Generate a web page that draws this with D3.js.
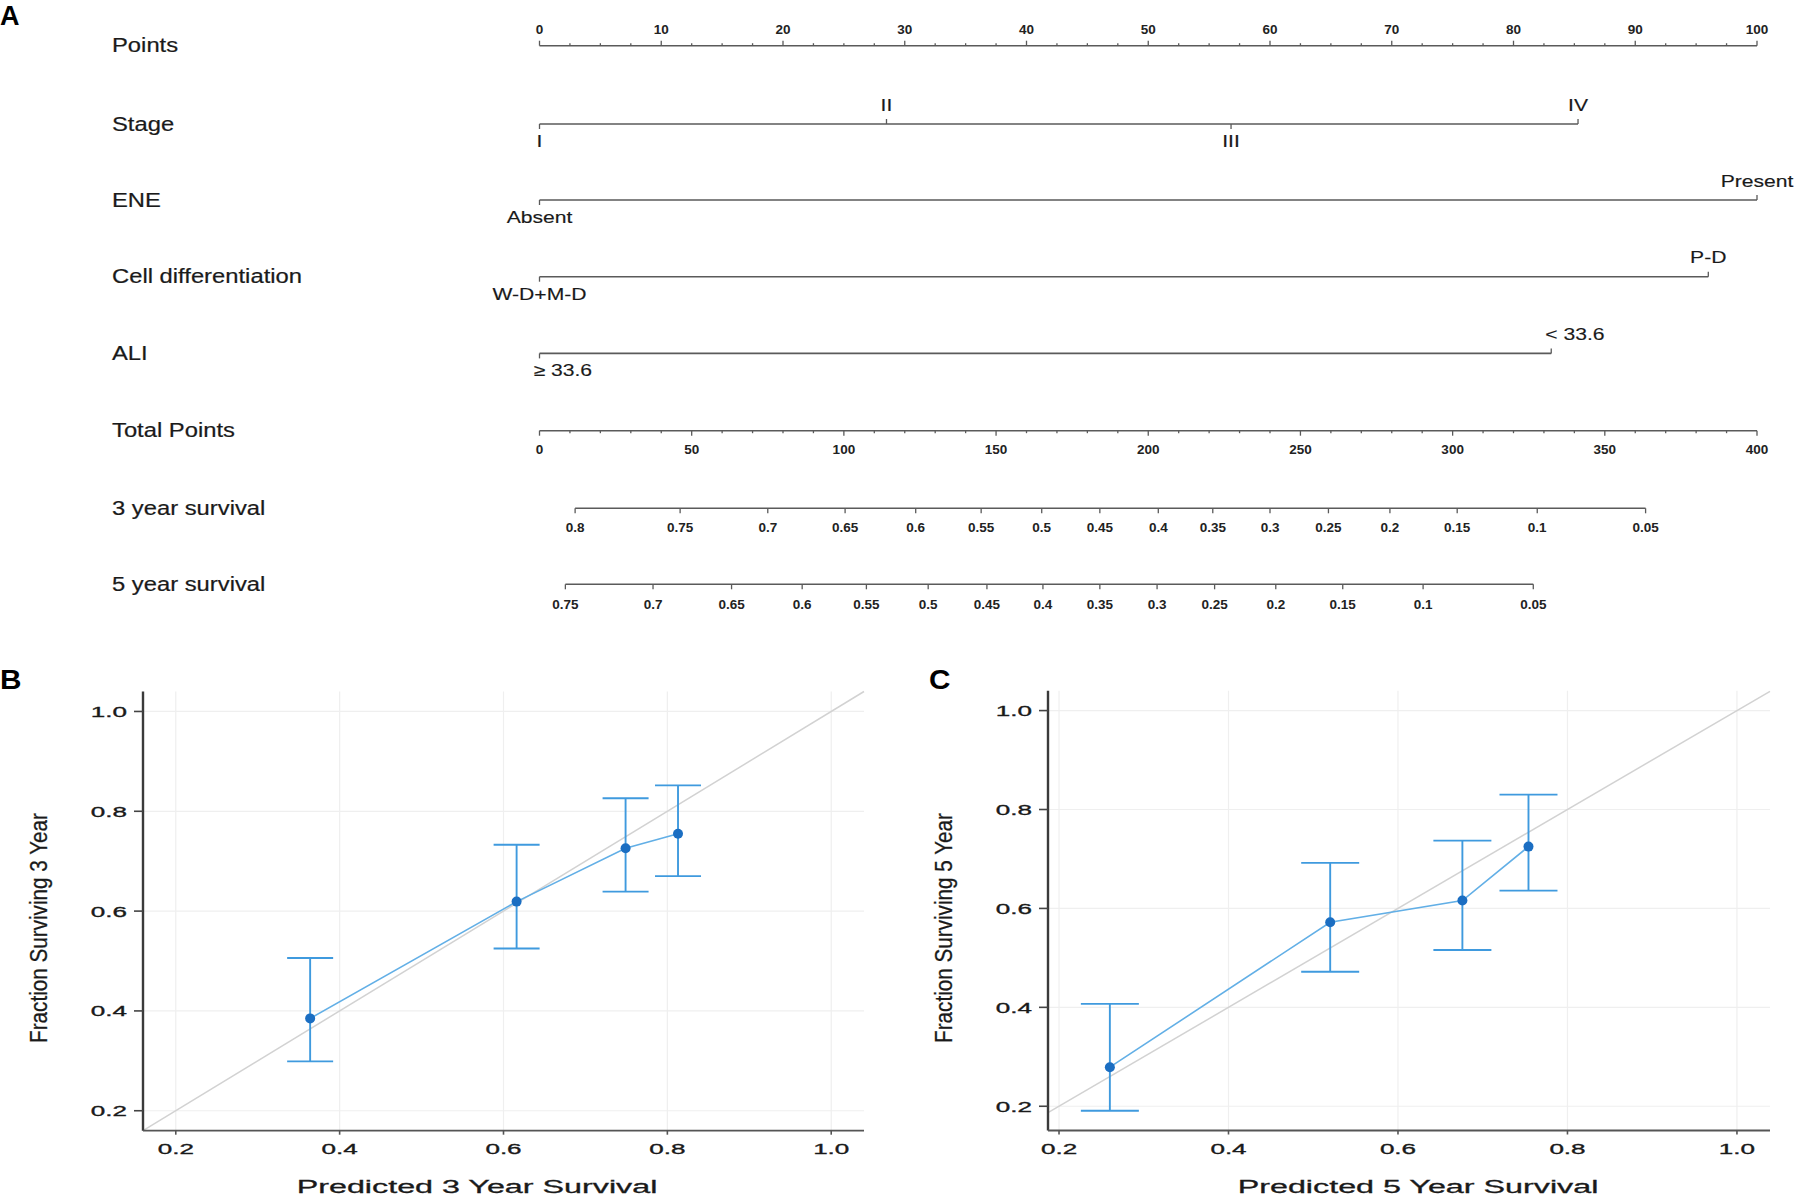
<!DOCTYPE html>
<html><head><meta charset="utf-8">
<script src="https://cdn.jsdelivr.net/npm/d3@7"></script>
<style>
html,body{margin:0;padding:0;background:#fff;}
svg{display:block;font-family:"Liberation Sans",Arial,Helvetica,sans-serif;}
</style></head><body>
<svg id="c" width="1799" height="1197"></svg>
<script>
// ---------------- DATA ----------------
const rowLabels = ["Points","Stage","ENE","Cell differentiation","ALI","Total Points","3 year survival","5 year survival"];
const pointsTicks = [0,10,20,30,40,50,60,70,80,90,100];
const stageLevels = ["I","II","III","IV"];
const stagePoints = [0,28.5,56.8,85.3];
const eneLevels = ["Absent","Present"];
const enePoints = [0,100];
const cellLevels = ["W-D+M-D","P-D"];
const cellPoints = [0,96.0];
const aliLevels = ["\u2265 33.6","< 33.6"];
const aliPoints = [0,83.1];
const totalTicks = [0,50,100,150,200,250,300,350,400];
const surv3Labels = ["0.8","0.75","0.7","0.65","0.6","0.55","0.5","0.45","0.4","0.35","0.3","0.25","0.2","0.15","0.1","0.05"];
const surv3Total  = [11.7,46.2,75.0,100.4,123.6,145.1,165.0,184.1,203.3,221.2,240.0,259.2,279.4,301.5,327.8,363.4];
const surv5Labels = ["0.75","0.7","0.65","0.6","0.55","0.5","0.45","0.4","0.35","0.3","0.25","0.2","0.15","0.1","0.05"];
const surv5Total  = [8.5,37.3,63.1,86.3,107.4,127.7,147.0,165.4,184.1,202.9,221.8,241.9,263.9,290.3,326.5];

const calTicks = [0.2,0.4,0.6,0.8,1.0];
const cal3Pred = [0.364,0.616,0.749,0.813];
const cal3Obs  = [0.385,0.619,0.726,0.755];
const cal3Lo   = [0.299,0.525,0.639,0.670];
const cal3Hi   = [0.506,0.733,0.826,0.852];
const cal5Pred = [0.260,0.520,0.676,0.754];
const cal5Obs  = [0.279,0.572,0.616,0.725];
const cal5Lo   = [0.191,0.472,0.516,0.636];
const cal5Hi   = [0.407,0.692,0.737,0.830];

// ---------------- DRAW ----------------
const svg = d3.select("#c");
const AX = "#5a5a5a";

function txt(g, x, y, s, o) {
  o = o || {};
  const t = g.append("text")
    .attr("transform", `translate(${x},${y}) scale(${o.sx||1},${o.sy||1})`)
    .attr("text-anchor", o.anchor || "start")
    .style("font-size", (o.size||16) + "px")
    .style("font-weight", o.weight || "normal")
    .attr("fill", o.fill || "#1a1a1a")
    .text(s);
  if (o.stroke) t.attr("stroke", o.fill || "#1a1a1a").attr("stroke-width", o.stroke);
  return t;
}
function seg(g, x1, y1, x2, y2, col, w) {
  return g.append("line").attr("x1",x1).attr("y1",y1).attr("x2",x2).attr("y2",y2)
    .attr("stroke", col).attr("stroke-width", w);
}

// panel labels
txt(svg, 0, 25, "A", {size:27, weight:"bold", fill:"#000"});
txt(svg, 0, 689, "B", {size:27, weight:"bold", fill:"#000", sx:1.1});
txt(svg, 929, 689, "C", {size:27, weight:"bold", fill:"#000", sx:1.1});

// ---- Nomogram ----
const nom = svg.append("g");
const rowY = [45.7,124,200,276.7,353.4,430.7,508.3,584.3];
const ps = d3.scaleLinear().domain([0,100]).range([539.5,1757]);
const ts = d3.scaleLinear().domain([0,400]).range([539.5,1757]);

rowLabels.forEach((l,i) => txt(nom, 112, rowY[i]+6.5, l, {size:19.5, sx:1.22, stroke:0.2}));

const tickFont = {size:12.5, anchor:"middle", sx:1.08, fill:"#222", weight:"bold"};

// Points axis (ticks up, labels above)
{
  const y = rowY[0];
  seg(nom, ps(0), y, ps(100), y, AX, 1.6);
  d3.range(0, 100.01, 2.5).forEach(v => {
    const major = Math.abs(v/10 - Math.round(v/10)) < 1e-6;
    seg(nom, ps(v), y, ps(v), y - (major?5:2.5), AX, 1.3);
  });
  pointsTicks.forEach(v => txt(nom, ps(v), y - 11.4, String(v), tickFont));
}

// Factor axes
function factorAxis(row, levels, pts, anchorStart) {
  const y = rowY[row];
  seg(nom, ps(d3.min(pts)), y, ps(d3.max(pts)), y, AX, 1.6);
  levels.forEach((lab, i) => {
    const x = ps(pts[i]);
    const below = i % 2 === 0;
    seg(nom, x, y, x, below ? y+5 : y-5, AX, 1.3);
    const ty = below ? y + 23 : y - 13.5;
    if (anchorStart) txt(nom, x - 6, ty, lab, {size:16.5, sx:1.28, stroke:0.15});
    else txt(nom, x, ty, lab, {size:16.5, sx:1.28, anchor:"middle", stroke:0.15});
  });
}
factorAxis(1, stageLevels, stagePoints, false);
factorAxis(2, eneLevels, enePoints, false);
factorAxis(3, cellLevels, cellPoints, false);
factorAxis(4, aliLevels, aliPoints, true);

// Total points axis (ticks down, labels below)
{
  const y = rowY[5];
  seg(nom, ts(0), y, ts(400), y, AX, 1.6);
  d3.range(0, 400.01, 10).forEach(v => {
    const major = v % 50 === 0;
    seg(nom, ts(v), y, ts(v), y + (major?5:2.5), AX, 1.3);
  });
  totalTicks.forEach(v => txt(nom, ts(v), y + 22.8, String(v), tickFont));
}

// survival axes
function survAxis(row, labels, tot, dy) {
  const y = rowY[row];
  seg(nom, ts(d3.min(tot)), y, ts(d3.max(tot)), y, AX, 1.6);
  labels.forEach((lab, i) => {
    const x = ts(tot[i]);
    seg(nom, x, y, x, y + 5, AX, 1.3);
    txt(nom, x, y + dy, lab, tickFont);
  });
}
survAxis(6, surv3Labels, surv3Total, 23.5);
survAxis(7, surv5Labels, surv5Total, 24.5);

// ---- Calibration panels ----
function calPanel(cfg) {
  const g = svg.append("g");
  const x = d3.scaleLinear().domain(cfg.xd).range(cfg.xr);
  const y = d3.scaleLinear().domain(cfg.yd).range(cfg.yr);
  const [x0, x1] = cfg.xr, [yb, yt] = cfg.yr;
  // grid
  calTicks.forEach(t => {
    seg(g, x(t), yb, x(t), yt, "#efefef", 1.2);
    seg(g, x0, y(t), x1, y(t), "#efefef", 1.2);
  });
  // diagonal
  const v0 = Math.max(cfg.xd[0], cfg.yd[0]), v1 = Math.min(cfg.xd[1], cfg.yd[1]);
  seg(g, x(v0), y(v0), x(v1), y(v1), "#d2d2d2", 1.5);
  // axes
  seg(g, x0, yb, x0, yt, "#3a3a3a", 2.4);
  seg(g, x0, yb, x1, yb, "#555", 1.8);
  const fmt = d3.format(".1f");
  calTicks.forEach(t => {
    seg(g, x(t), yb, x(t), yb + 4, "#555", 1.6);
    txt(g, x(t), 1154, fmt(t), {size:15.5, sx:1.68, anchor:"middle", fill:"#1a1a1a", stroke:0.35});
    seg(g, x0 - 9, y(t), x0, y(t), "#444", 1.6);
    txt(g, x0 - 16, y(t) + 5.5, fmt(t), {size:15.5, sx:1.68, anchor:"end", fill:"#1a1a1a", stroke:0.35});
  });
  // titles
  txt(g, cfg.xtX, 1193, cfg.xTitle, {size:19, sx:1.7, anchor:"middle", fill:"#1a1a1a", stroke:0.3});
  g.append("text")
    .attr("transform", `translate(${cfg.ytX},928) rotate(-90) scale(1,1.17)`)
    .attr("text-anchor", "middle").style("font-size", "20.7px").attr("fill", "#1a1a1a")
    .attr("stroke", "#1a1a1a").attr("stroke-width", 0.25)
    .text(cfg.yTitle);
  // calibration line
  const pts = cfg.pred.map((p, i) => [p, cfg.obs[i]]);
  g.append("path").datum(pts)
    .attr("d", d3.line().x(d => x(d[0])).y(d => y(d[1])))
    .attr("fill", "none").attr("stroke", "#62afe6").attr("stroke-width", 1.6);
  // error bars
  const eb = "#3f9ade";
  cfg.pred.forEach((p, i) => {
    const cx = x(p);
    seg(g, cx, y(cfg.lo[i]), cx, y(cfg.hi[i]), eb, 1.9);
    seg(g, cx - cfg.cap, y(cfg.lo[i]), cx + cfg.cap, y(cfg.lo[i]), eb, 1.9);
    seg(g, cx - cfg.cap, y(cfg.hi[i]), cx + cfg.cap, y(cfg.hi[i]), eb, 1.9);
  });
  g.selectAll("circle.pt").data(pts).enter().append("circle")
    .attr("cx", d => x(d[0])).attr("cy", d => y(d[1])).attr("r", 5)
    .attr("fill", "#1b6ec2");
}

calPanel({
  xd:[0.16,1.04], xr:[143,864], yd:[0.16,1.04], yr:[1130.7,691.5],
  pred:cal3Pred, obs:cal3Obs, lo:cal3Lo, hi:cal3Hi, cap:23,
  xTitle:"Predicted 3 Year Survival", xtX:477,
  yTitle:"Fraction Surviving 3 Year", ytX:46.6
});
calPanel({
  xd:[0.187,1.039], xr:[1048,1770], yd:[0.151,1.04], yr:[1130.5,690.8],
  pred:cal5Pred, obs:cal5Obs, lo:cal5Lo, hi:cal5Hi, cap:29,
  xTitle:"Predicted 5 Year Survival", xtX:1418,
  yTitle:"Fraction Surviving 5 Year", ytX:951.5
});
</script>
</body></html>
